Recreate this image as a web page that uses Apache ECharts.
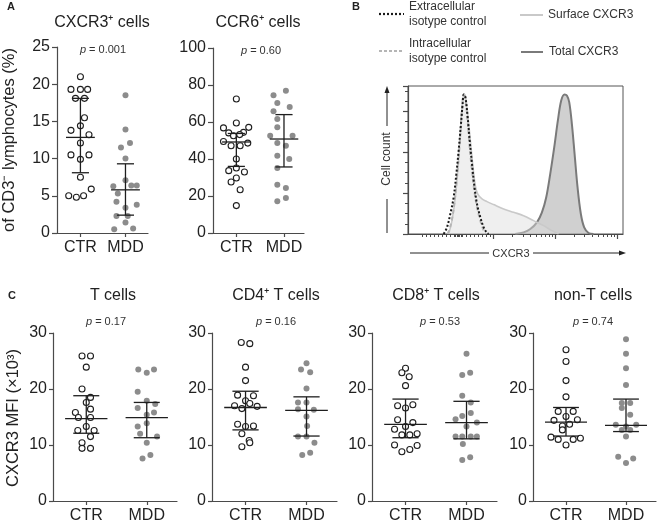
<!DOCTYPE html>
<html><head><meta charset="utf-8">
<script src="https://cdn.jsdelivr.net/npm/echarts@6/dist/echarts.min.js"></script>
<style>html,body{margin:0;padding:0;background:#fff}#c{width:658px;height:526px}</style>
</head><body><div id="c"></div><script>
const FONT = '"Liberation Sans", Arial, Helvetica, sans-serif';
const AX = '#4a4a4a';
const groupLabels = ['CTR', 'MDD'];

// ---- Panel A : [x jitter (category units), value]
const a1Ctr = [[0,21.0],[-0.21,19.3],[0,19.3],[0.16,19.3],[-0.11,18.1],[0.09,18.1],[0.09,15.5],[0,14.4],[-0.21,13.8],[0.19,13.2],[0,12.1],[-0.21,10.5],[0.19,10.5],[0,9.9],[0,7.5],[-0.26,5.0],[-0.09,4.8],[0.07,5.0],[0.24,5.9]];
const a1Mdd = [[0,18.5],[0,13.9],[-0.1,11.5],[0.1,12.1],[0,10.0],[0,7.1],[-0.27,6.3],[0.13,6.4],[0.25,6.4],[-0.17,5.3],[-0.2,4.2],[0.25,3.8],[0,3.4],[-0.2,2.3],[0.05,2.3],[0,1.4],[-0.25,0.5],[0.17,0.6]];
const a1CtrStats = [12.85, 8.1, 18.1];   // median, q1, q3
const a1MddStats = [5.8, 2.4, 9.3];

const a2Ctr = [[0,72.4],[0,59.5],[-0.27,56.8],[0.26,57.1],[-0.16,54.1],[0.15,54.4],[-0.06,52.6],[0.07,53.2],[-0.27,49.5],[0.24,48.6],[-0.11,47.2],[0.08,47.2],[0,40.0],[-0.16,33.7],[0,35.1],[0.17,33.0],[0,29.7],[-0.11,27.6],[0.08,23.4],[0,14.8]];
const a2Mdd = [[-0.22,74.4],[0.04,76.9],[-0.14,70.3],[0.12,68.1],[-0.22,65.8],[-0.14,61.6],[-0.14,57.1],[-0.29,52.6],[0.18,52.6],[-0.14,48.6],[0.04,47.2],[-0.14,41.8],[0.11,40.0],[-0.14,35.1],[-0.14,26.1],[0.04,24.3],[-0.14,17.1],[0.04,18.9]];
const a2CtrStats = [49.2, 36.0, 53.8];
const a2MddStats = [50.8, 35.7, 64.0];

// ---- Panel C : CXCR3 MFI (x10^3)
const c1Ctr = [[-0.07,25.9],[0.07,25.9],[0,23.9],[-0.07,20.0],[0.07,18.5],[0,17.6],[-0.18,15.8],[0.07,16.4],[-0.13,14.9],[0.07,14.9],[0,13.3],[-0.14,12.6],[0.13,12.6],[0.07,11.5],[-0.07,10.4],[-0.07,9.4],[0.07,9.4]];
const c1Mdd = [[-0.14,23.5],[0,22.9],[0.12,23.5],[-0.15,19.5],[0,17.9],[0.14,17.3],[-0.15,16.6],[0,15.4],[0.12,15.8],[0,13.9],[-0.15,13.3],[-0.11,12.0],[0.17,11.5],[0,10.4],[-0.07,7.6],[0.06,8.2]];
const c1CtrStats = [14.7, 12.1, 18.8];
const c1MddStats = [14.9, 11.3, 17.6];

const c2Ctr = [[-0.07,28.3],[0.07,28.1],[0,23.9],[0,21.5],[-0.13,18.9],[0.13,18.8],[0,17.9],[-0.18,17.0],[-0.06,16.5],[0.07,17.4],[0.19,16.9],[-0.13,13.7],[0,13.3],[0.13,13.4],[-0.06,12.0],[0.06,10.8],[0.07,10.4],[-0.06,9.7]];
const c2Mdd = [[-0.09,23.5],[0,24.6],[0.06,23.0],[0,20.1],[-0.14,17.6],[0,17.6],[-0.14,16.4],[0.12,16.3],[0,15.1],[0.01,13.4],[-0.14,11.5],[0,11.5],[0.13,10.4],[-0.07,8.2],[0.06,8.6]];
const c2CtrStats = [16.7, 12.7, 19.6];
const c2MddStats = [16.2, 11.6, 18.6];

const c3Ctr = [[0,23.7],[-0.06,22.9],[0.06,22.2],[0,20.6],[-0.13,17.0],[0.12,17.2],[0,16.6],[-0.13,14.5],[0.12,14.0],[0,13.3],[-0.18,12.8],[-0.06,11.8],[0.07,11.8],[0.19,12.0],[-0.18,10.0],[0.19,9.9],[-0.06,8.8],[0.07,9.2]];
const c3Mdd = [[0,26.3],[-0.07,22.5],[0.06,22.9],[-0.07,18.8],[0.07,17.6],[-0.07,15.2],[0.07,15.7],[-0.18,14.6],[0.17,14.0],[0,13.3],[-0.18,11.5],[-0.07,11.5],[0.07,11.5],[0.17,11.5],[-0.06,10.2],[-0.07,7.3],[0.06,7.8]];
const c3CtrStats = [13.7, 11.3, 18.2];
const c3MddStats = [14.0, 11.1, 17.8];

const c4Ctr = [[0,27.0],[0,24.9],[0,21.5],[0,18.6],[-0.13,16.0],[0.12,16.0],[-0.2,14.4],[0.19,14.5],[0,15.1],[-0.06,13.4],[0.06,13.7],[-0.06,12.7],[-0.25,11.4],[-0.13,11.0],[0.12,11.0],[0.24,11.2],[0,10.0]];
const c4Mdd = [[0,28.9],[0,26.3],[0,23.7],[0,20.7],[-0.07,17.5],[0.07,17.5],[-0.07,16.6],[0.07,15.4],[-0.17,13.6],[0.17,13.6],[0,13.3],[-0.07,12.7],[0.07,12.7],[0,11.5],[-0.13,7.9],[0.12,7.6],[0,6.8]];
const c4CtrStats = [14.1, 11.6, 16.7];
const c4MddStats = [13.5, 12.4, 18.2];

const cTitles = ['T cells', 'CD4\u207A T cells', 'CD8\u207A T cells', 'non-T cells'];
const cPvalues = ['0.17', '0.16', '0.53', '0.74'];

// ---- Panel B : histogram curves [log10(CXCR3), cell count units]
const bExtraIso = [[2.189,0],[2.243,0.163],[2.297,0.49],[2.351,0.899],[2.395,1.471],[2.432,2.042],[2.470,2.696],[2.497,3.186],[2.514,3.415],[2.541,3.35],[2.578,2.86],[2.611,2.288],[2.649,1.716],[2.686,1.185],[2.730,0.735],[2.784,0.408],[2.838,0.163],[2.892,0.025],[2.919,0]];
const bIntraIso = [[2.254,0],[2.308,0.245],[2.362,0.735],[2.405,1.389],[2.449,2.206],[2.486,3.023],[2.514,3.39],[2.541,3.309],[2.578,2.778],[2.611,2.124],[2.649,1.552],[2.686,1.062],[2.730,0.654],[2.784,0.327],[2.838,0.082],[2.865,0]];
const bSurface = [[2.270,0],[2.324,0.327],[2.378,0.899],[2.422,1.634],[2.459,2.451],[2.492,3.186],[2.519,3.431],[2.546,3.35],[2.578,2.941],[2.622,2.288],[2.665,1.634],[2.703,1.185],[2.741,0.98],[2.811,0.858],[2.892,0.792],[3.0,0.719],[3.162,0.613],[3.324,0.531],[3.486,0.449],[3.649,0.327],[3.811,0.204],[3.946,0.082],[4.054,0]];
const bTotal = [[3.351,0],[3.486,0.041],[3.595,0.123],[3.703,0.286],[3.784,0.531],[3.854,0.899],[3.919,1.471],[3.984,2.124],[4.043,2.778],[4.097,3.268],[4.151,3.415],[4.189,3.39],[4.227,3.227],[4.270,2.696],[4.314,1.961],[4.362,1.144],[4.416,0.49],[4.470,0.163],[4.541,0.025],[4.622,0]];
const bLegend = ['Extracellular\nisotype control', 'Intracellular\nisotype control', 'Surface CXCR3', 'Total CXCR3'];

// B axis tick positions (decades + log minor ticks + linear region)
const bMajorTicks = [3, 4, 5];
const bMinorTicks = [];
for (let v = 1.84; v < 2.97; v += 0.065) bMinorTicks.push(+v.toFixed(3));
[2.38, 2.41, 2.44, 2.47].forEach(v => bMinorTicks.push(v));
[3, 4].forEach(k => { for (let n = 2; n <= 9; n++) bMinorTicks.push(k + Math.log10(n)); });

// ---------- helpers ----------
function xCat(grid, min, max) {
  return {
    type: 'value', gridIndex: grid, min, max,
    axisLine: { show: true, onZero: false, lineStyle: { color: AX, width: 1.2 } },
    axisTick: { show: true, customValues: [1, 2], length: 4, lineStyle: { color: AX, width: 1.2 } },
    axisLabel: { customValues: [1, 2], margin: 7, color: '#222', fontSize: 16, fontFamily: FONT,
      formatter: v => (v === 1 || v === 2) ? groupLabels[v - 1] : '' },
    splitLine: { show: false }
  };
}
function yVal(grid, max, interval, tickLen, margin) {
  return {
    type: 'value', gridIndex: grid, min: 0, max, interval,
    axisLine: { show: true, lineStyle: { color: AX, width: 1.2 } },
    axisTick: { show: true, length: tickLen, lineStyle: { color: AX, width: 1.2 } },
    axisLabel: { margin, color: '#222', fontSize: 16, fontFamily: FONT },
    splitLine: { show: false }
  };
}
function dots(grid, pts, center, open) {
  return {
    type: 'scatter', xAxisIndex: grid, yAxisIndex: grid, silent: true, z: 2,
    data: pts.map(p => [center + p[0], p[1]]),
    symbol: 'circle', symbolSize: 6,
    itemStyle: open ? { color: '#fff', borderColor: '#1e1e1e', borderWidth: 1.1, opacity: 1 } : { color: '#8c8c8c', opacity: 1 }
  };
}
function bars(grid, ctrStats, mddStats, medHalf, capHalf) {
  return {
    type: 'custom', xAxisIndex: grid, yAxisIndex: grid, silent: true, z: 5,
    data: [[1, ...ctrStats], [2, ...mddStats]],
    renderItem(params, api) {
      const x = api.value(0), m = api.value(1), lo = api.value(2), hi = api.value(3);
      const L = (a, b) => ({ type: 'line', shape: { x1: a[0], y1: a[1], x2: b[0], y2: b[1] }, style: { stroke: '#1e1e1e', lineWidth: 1.3 } });
      return { type: 'group', children: [
        L(api.coord([x - medHalf, m]), api.coord([x + medHalf, m])),
        L(api.coord([x, lo]), api.coord([x, hi])),
        L(api.coord([x - capHalf, lo]), api.coord([x + capHalf, lo])),
        L(api.coord([x - capHalf, hi]), api.coord([x + capHalf, hi]))
      ] };
    }
  };
}
function txt(x, y, text, size, extra) {
  return Object.assign({ type: 'text', x, y, silent: true,
    style: Object.assign({ text, fill: '#222', fontSize: size, fontFamily: FONT, align: 'center', verticalAlign: 'middle' }, extra || {}) });
}
function pTxt(x, y, val) {
  return { type: 'text', x, y, silent: true, style: { text: '{i|p} = ' + val, fill: '#333', fontSize: 11, fontFamily: FONT,
    align: 'center', verticalAlign: 'middle', rich: { i: { fontStyle: 'italic', fontSize: 11, fontFamily: FONT, fill: '#333' } } } };
}
function seg(x1, y1, x2, y2, stroke, w, dash) {
  return { type: 'line', silent: true, shape: { x1, y1, x2, y2 }, style: { stroke, lineWidth: w, lineDash: dash || null } };
}

// ---------- layout ----------
const grids = [
  { left: 57, top: 47, width: 91, height: 186 },    // 0 A1
  { left: 213, top: 48, width: 91, height: 185 },   // 1 A2
  { left: 408, top: 86, width: 215, height: 148, show: true, borderColor: '#555', borderWidth: 1 }, // 2 B
  { left: 53, top: 333, width: 124, height: 168 },  // 3 C1
  { left: 212, top: 333, width: 125, height: 168 }, // 4 C2
  { left: 372, top: 333, width: 125, height: 168 }, // 5 C3
  { left: 533, top: 333, width: 123, height: 168 }  // 6 C4
].map(g => Object.assign({ outerBoundsMode: 'none', containLabel: false }, g));

const xAxes = [
  xCat(0, 0.48, 2.5), xCat(1, 0.51, 2.42),
  { type: 'value', gridIndex: 2, min: 1.61, max: 5.10,
    axisLine: { show: true, onZero: false, lineStyle: { color: AX, width: 1.2 } },
    axisTick: { show: true, customValues: bMinorTicks, length: 3, lineStyle: { color: AX, width: 1 } },
    axisLabel: { show: false }, splitLine: { show: false } },
  xCat(3, 0.45, 2.5), xCat(4, 0.45, 2.5), xCat(5, 0.45, 2.5), xCat(6, 0.45, 2.5),
  { type: 'value', gridIndex: 2, position: 'bottom', min: 1.61, max: 5.10,
    axisLine: { show: false },
    axisTick: { show: true, customValues: bMajorTicks, length: 5, lineStyle: { color: AX, width: 1.2 } },
    axisLabel: { show: false }, splitLine: { show: false } }
];
const yAxes = [
  yVal(0, 25, 5, 5, 7), yVal(1, 100, 20, 5, 7),
  { type: 'value', gridIndex: 2, min: 0, max: 3.62, interval: 1,
    axisLine: { show: true, lineStyle: { color: AX, width: 1.2 } },
    axisTick: { show: true, length: 5, lineStyle: { color: AX, width: 1.2 } },
    minorTick: { show: true, splitNumber: 4, length: 3, lineStyle: { color: AX, width: 1 } },
    axisLabel: { show: false }, splitLine: { show: false }, minorSplitLine: { show: false } },
  yVal(3, 30, 10, 4, 6), yVal(4, 30, 10, 4, 6), yVal(5, 30, 10, 4, 6), yVal(6, 30, 10, 4, 6)
];

function histLine(data, color, width, type, area, z) {
  return { type: 'line', xAxisIndex: 2, yAxisIndex: 2, data, showSymbol: false, smooth: 0.35, silent: true, z,
    lineStyle: { color, width, type }, areaStyle: area ? { color: area, opacity: 1 } : undefined };
}

const series = [
  dots(0, a1Ctr, 1, true), dots(0, a1Mdd, 2, false), bars(0, a1CtrStats, a1MddStats, 0.32, 0.19),
  dots(1, a2Ctr, 1, true), dots(1, a2Mdd, 2, false), bars(1, a2CtrStats, a2MddStats, 0.30, 0.18),
  histLine(bTotal, '#7a7a7a', 2, 'solid', 'rgba(170,170,170,0.55)', 2),
  histLine(bSurface, '#c9c9c9', 1.6, 'solid', 'rgba(220,220,220,0.45)', 3),
  histLine(bIntraIso, '#b5b5b5', 2, [4, 3], null, 4),
  histLine(bExtraIso, '#1a1a1a', 2, [2, 2], null, 5),
  dots(3, c1Ctr, 1, true), dots(3, c1Mdd, 2, false), bars(3, c1CtrStats, c1MddStats, 0.35, 0.215),
  dots(4, c2Ctr, 1, true), dots(4, c2Mdd, 2, false), bars(4, c2CtrStats, c2MddStats, 0.35, 0.215),
  dots(5, c3Ctr, 1, true), dots(5, c3Mdd, 2, false), bars(5, c3CtrStats, c3MddStats, 0.35, 0.215),
  dots(6, c4Ctr, 1, true), dots(6, c4Mdd, 2, false), bars(6, c4CtrStats, c4MddStats, 0.35, 0.215)
];

const cCenters = [113, 276, 436, 593];
const cPx = [106, 276, 440, 593];
const graphics = [
  txt(11, 7, 'A', 11, { fontWeight: 'bold' }),
  txt(356, 7, 'B', 11, { fontWeight: 'bold' }),
  txt(12, 296, 'C', 11, { fontWeight: 'bold' }),
  txt(102, 23, 'CXCR3\u207A cells', 16),
  txt(258, 23, 'CCR6\u207A cells', 16),
  pTxt(103, 50, '0.001'),
  pTxt(261, 51, '0.60'),
  Object.assign(txt(9, 140, 'of CD3\u207B lymphocytes (%)', 16.5), { rotation: Math.PI / 2 }),
  Object.assign(txt(13, 418, 'CXCR3 MFI (\u00D710\u00B3)', 16.5), { rotation: Math.PI / 2 }),
  // B legend
  seg(379, 14, 404, 14, '#1a1a1a', 2.2, [2, 2]),
  txt(409, 14.5, bLegend[0], 12, { align: 'left', fill: '#333', lineHeight: 15 }),
  seg(379, 51, 404, 51, '#b5b5b5', 2, [3, 2]),
  txt(409, 51.5, bLegend[1], 12, { align: 'left', fill: '#333', lineHeight: 15 }),
  seg(520, 15, 543, 15, '#c9c9c9', 2),
  txt(548, 15, bLegend[2], 12, { align: 'left', fill: '#333' }),
  seg(521, 52, 543, 52, '#7a7a7a', 2),
  txt(549, 52, bLegend[3], 12, { align: 'left', fill: '#333' }),
  // B axis titles with arrows
  Object.assign(txt(387, 159, 'Cell count', 12, { fill: '#333' }), { rotation: Math.PI / 2 }),
  seg(387, 233, 387, 199, '#222', 1),
  seg(387, 126, 387, 92, '#222', 1),
  { type: 'polygon', silent: true, shape: { points: [[387, 86], [384.5, 93], [389.5, 93]] }, style: { fill: '#222' } },
  txt(511, 253.5, 'CXCR3', 11, { fill: '#333' }),
  seg(410, 253, 489, 253, '#222', 1),
  seg(533, 253, 620, 253, '#222', 1),
  { type: 'polygon', silent: true, shape: { points: [[626, 253], [619, 250.5], [619, 255.5]] }, style: { fill: '#222' } }
];
cTitles.forEach((t, i) => graphics.push(txt(cCenters[i], 296, t, 16)));
cPvalues.forEach((p, i) => graphics.push(pTxt(cPx[i], 322, p)));

const chart = echarts.init(document.getElementById('c'), null, { renderer: 'canvas' });
chart.setOption({
  backgroundColor: '#fff', animation: false,
  grid: grids, xAxis: xAxes, yAxis: yAxes, series, graphic: graphics
});
</script></body></html>
